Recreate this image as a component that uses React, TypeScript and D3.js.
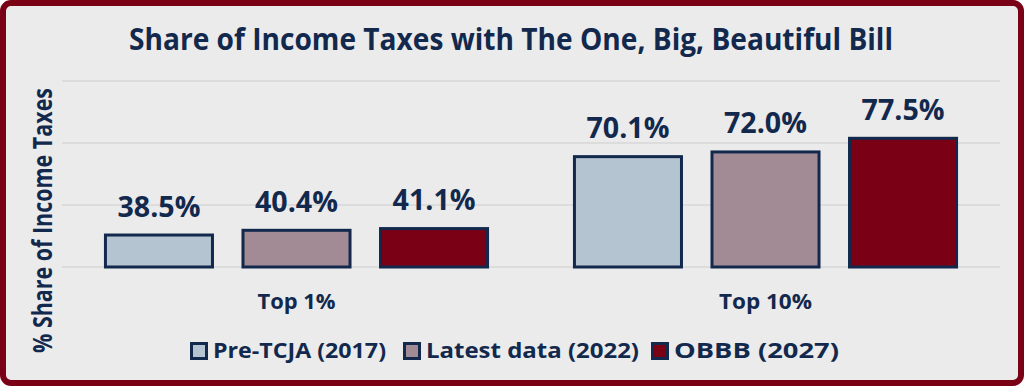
import React from 'react';
import * as d3 from 'd3';

const categories = ['Top 1%', 'Top 10%'];
const seriesNames = ['Pre-TCJA (2017)', 'Latest data (2022)', 'OBBB (2027)'];
const preTcja = [38.5, 70.1];
const latest = [40.4, 72.0];
const obbb = [41.1, 77.5];
const yTicks = [25, 50, 75, 100];

const seriesValues = [preTcja, latest, obbb];
const colors = ['#B5C4D1', '#A38B96', '#7A0016'];
const navy = '#12294D';
const font = "'Open Sans', sans-serif";

const W = 1024, H = 386;
const plot = { left: 62, right: 1000, top: 81, bottom: 267 };

export default function App() {
  const x0 = d3.scaleBand().domain(categories).range([plot.left, plot.right]);
  const x1 = d3.scaleBand().domain(seriesNames).range([0, x0.bandwidth()])
    .paddingInner(0.2).paddingOuter(0.305);
  const y = d3.scaleLinear().domain([25, 100]).range([plot.bottom, plot.top]);

  // legend layout (box x, text width)
  const legendX = [190, 403, 651];
  const legendW = [173, 213, 165];
  const catW = [78, 93];

  return (
    <div style={{ position: 'absolute', left: 0, top: 0 }}>
      <svg width={W} height={H} style={{ display: 'block' }}>
        <rect x={3} y={3} width={W - 6} height={H - 6} rx={8}
          fill="#EBEBEB" stroke="#7A0016" strokeWidth={6} />

        <text x={511} y={50} textAnchor="middle" fontFamily={font} fontWeight={700}
          fontSize={30} fill={navy} textLength={764} lengthAdjust="spacingAndGlyphs">
          Share of Income Taxes with The One, Big, Beautiful Bill
        </text>

        <text transform={`translate(52,220.5) rotate(-90)`} textAnchor="middle"
          fontFamily={font} fontWeight={700} fontSize={26} fill={navy}
          textLength={265} lengthAdjust="spacingAndGlyphs">
          % Share of Income Taxes
        </text>

        {yTicks.map(t => (
          <line key={t} x1={plot.left} x2={plot.right} y1={y(t)} y2={y(t)}
            stroke="#D7D7D7" strokeWidth={1.5} />
        ))}

        {categories.map((c, ci) => (
          <g key={c} transform={`translate(${x0(c)},0)`}>
            {seriesNames.map((s, si) => {
              const v = seriesValues[si][ci];
              const bx = x1(s)!;
              const bw = x1.bandwidth();
              return (
                <g key={s}>
                  <rect x={bx + 1.5} y={y(v) + 1.5} width={bw - 3}
                    height={y(25) - y(v) - 1.5} fill={colors[si]}
                    stroke={navy} strokeWidth={3} />
                  <text x={bx + bw / 2} y={y(v) - 17} textAnchor="middle"
                    fontFamily={font} fontWeight={700} fontSize={29} fill={navy}
                    textLength={83} lengthAdjust="spacingAndGlyphs">
                    {v.toFixed(1) + '%'}
                  </text>
                </g>
              );
            })}
            <text x={x0.bandwidth() / 2} y={309} textAnchor="middle"
              fontFamily={font} fontWeight={700} fontSize={22} fill={navy}
              textLength={catW[ci]} lengthAdjust="spacingAndGlyphs">
              {c}
            </text>
          </g>
        ))}

        {seriesNames.map((s, si) => (
          <g key={s} transform={`translate(${legendX[si]},0)`}>
            <rect x={1.5} y={343.5} width={15} height={15} fill={colors[si]}
              stroke={navy} strokeWidth={3} />
            <text x={23} y={358} fontFamily={font} fontWeight={700} fontSize={22}
              fill={navy} textLength={legendW[si]} lengthAdjust="spacingAndGlyphs">
              {s}
            </text>
          </g>
        ))}
      </svg>
    </div>
  );
}
